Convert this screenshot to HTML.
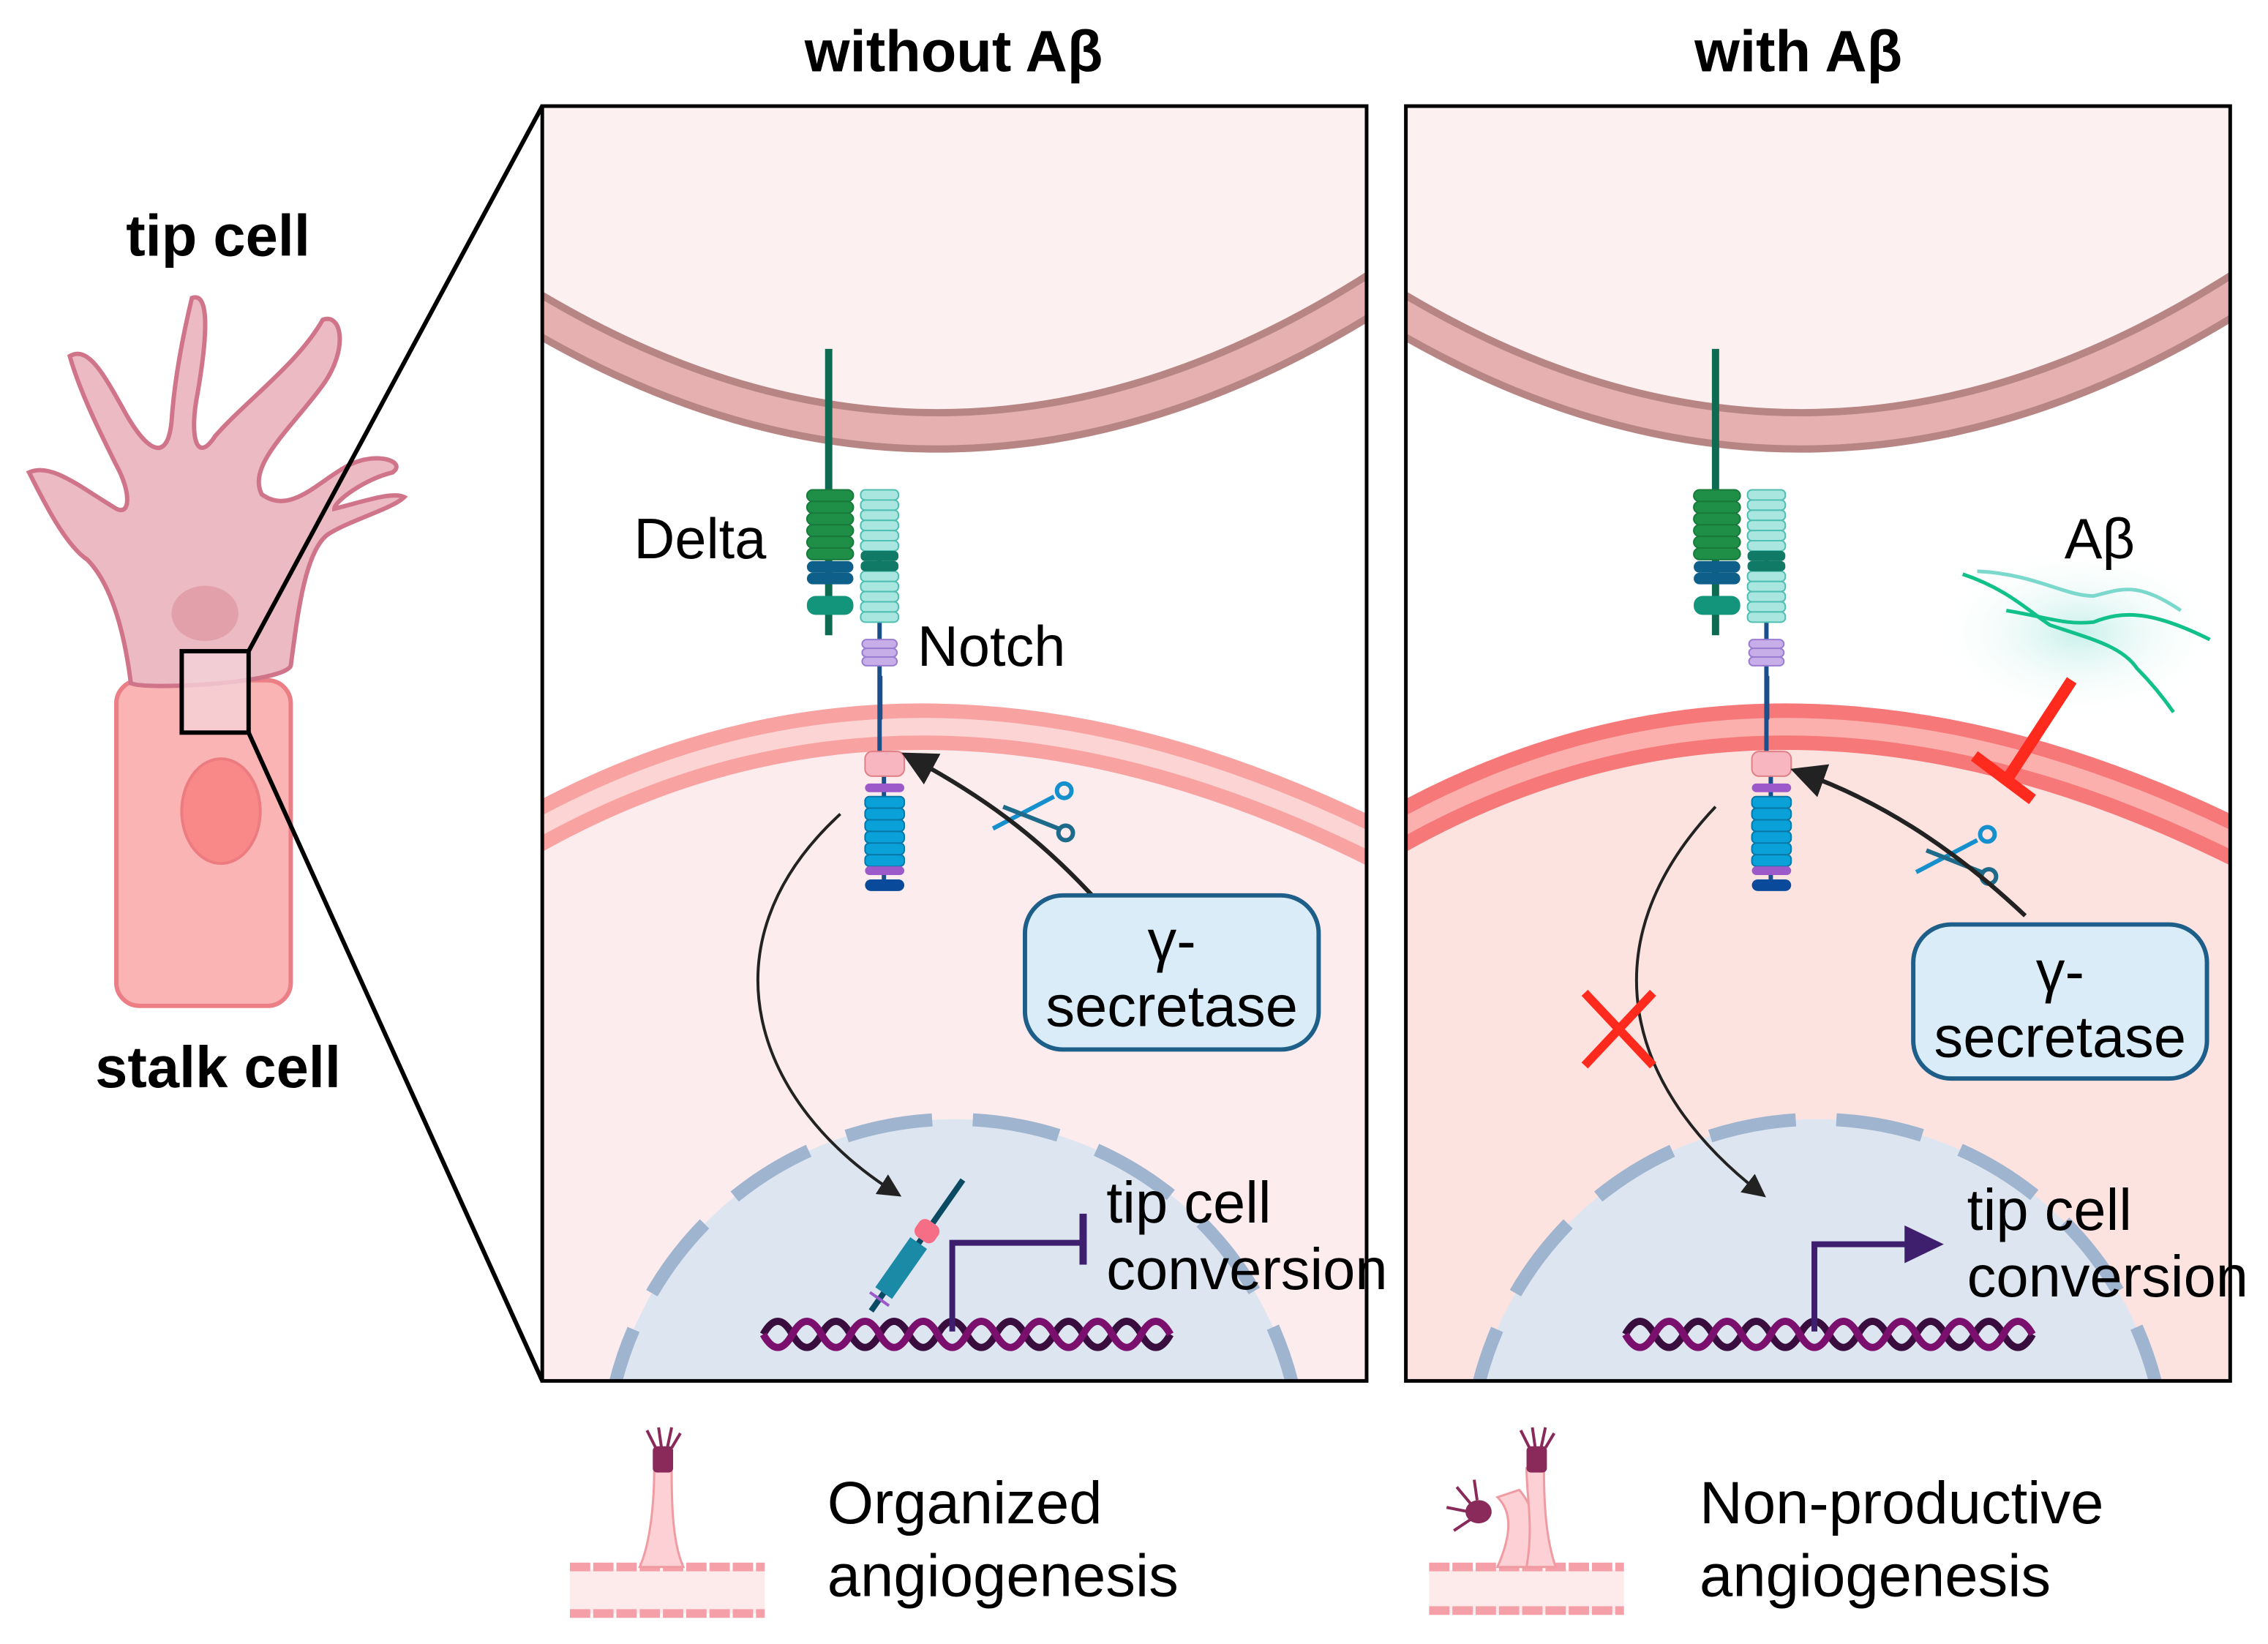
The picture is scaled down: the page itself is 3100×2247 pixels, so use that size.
<!DOCTYPE html>
<html><head><meta charset="utf-8"><style>
html,body{margin:0;padding:0;background:#fff;width:3100px;height:2247px;overflow:hidden;}
svg{display:block;}
text{font-family:"Liberation Sans",sans-serif;}
</style></head><body>
<svg width="3100" height="2247" viewBox="0 0 1560 1131" preserveAspectRatio="none" xmlns="http://www.w3.org/2000/svg">
<defs>
<clipPath id="cl"><rect x="373" y="73" width="567" height="877"/></clipPath>
<clipPath id="cr"><rect x="967" y="73" width="567" height="877"/></clipPath>
<marker id="ah" markerWidth="8" markerHeight="8" refX="5" refY="4" orient="auto" markerUnits="strokeWidth"><path d="M0,0 L8,4 L0,8 Z" fill="#222"/></marker>
<radialGradient id="glow"><stop offset="0" stop-color="#c8f0ea"/><stop offset="1" stop-color="#ffffff" stop-opacity="0"/></radialGradient>
<g id="rec">
 <line x1="570" y1="240" x2="570" y2="437" stroke="#0f6a52" stroke-width="5"/>
 <g fill="#1f8f48" stroke="#177a3a" stroke-width="1">
  <rect x="555" y="337" width="32" height="8" rx="4"/><rect x="555" y="345" width="32" height="8" rx="4"/><rect x="555" y="353" width="32" height="8" rx="4"/><rect x="555" y="361" width="32" height="8" rx="4"/><rect x="555" y="369" width="32" height="8" rx="4"/><rect x="555" y="377" width="32" height="8" rx="4"/></g>
 <rect x="555" y="386" width="32" height="8" rx="4" fill="#0e5f8a"/><rect x="555" y="394" width="32" height="8" rx="4" fill="#0e5f8a"/>
 <rect x="555" y="410" width="32" height="13" rx="6" fill="#12957a"/>
 <line x1="605" y1="337" x2="605" y2="520" stroke="#1a4f8a" stroke-width="3"/>
 <g fill="#a9e6df" stroke="#4fbfb2" stroke-width="1">
  <rect x="592" y="337" width="26" height="7" rx="3"/><rect x="592" y="344" width="26" height="7" rx="3"/><rect x="592" y="351" width="26" height="7" rx="3"/><rect x="592" y="358" width="26" height="7" rx="3"/><rect x="592" y="365" width="26" height="7" rx="3"/><rect x="592" y="372" width="26" height="7" rx="3"/>
  <rect x="592" y="393" width="26" height="7" rx="3"/><rect x="592" y="400" width="26" height="7" rx="3"/><rect x="592" y="407" width="26" height="7" rx="3"/><rect x="592" y="414" width="26" height="7" rx="3"/><rect x="592" y="421" width="26" height="7" rx="3"/></g>
 <rect x="592" y="379" width="26" height="7" rx="3" fill="#117a66"/><rect x="592" y="386" width="26" height="7" rx="3" fill="#117a66"/>
 <rect x="593" y="440" width="24" height="6" rx="3" fill="#c7aee8" stroke="#9a7cd0"/><rect x="593" y="446" width="24" height="6" rx="3" fill="#c7aee8" stroke="#9a7cd0"/><rect x="593" y="452" width="24" height="6" rx="3" fill="#c7aee8" stroke="#9a7cd0"/>
 <rect x="604" y="465" width="3" height="30" fill="#1a4f8a"/>
 <line x1="608" y1="534" x2="608" y2="610" stroke="#1a4f8a" stroke-width="3"/>
 <rect x="595" y="517" width="27" height="17" rx="5" fill="#f7b6c0" stroke="#e07f86"/>
 <rect x="595" y="539" width="27" height="6" rx="3" fill="#9b59c9"/>
 <g fill="#0aa0d8" stroke="#0878a8" stroke-width="1"><rect x="595" y="548" width="27" height="8" rx="3"/><rect x="595" y="556" width="27" height="8" rx="3"/><rect x="595" y="564" width="27" height="8" rx="3"/><rect x="595" y="572" width="27" height="8" rx="3"/><rect x="595" y="580" width="27" height="8" rx="3"/><rect x="595" y="588" width="27" height="8" rx="3"/></g>
 <rect x="595" y="596" width="27" height="6" rx="3" fill="#9b59c9"/>
 <rect x="595" y="605" width="27" height="8" rx="4" fill="#0a4a9a"/>
</g>
<g id="sciss" fill="none" stroke="#1590cc" stroke-width="3">
 <line x1="683" y1="570" x2="725" y2="548"/><line x1="690" y1="555" x2="728" y2="570" stroke="#1d6a8a"/>
 <circle cx="732" cy="544" r="5"/><circle cx="733" cy="573" r="5" stroke="#1d6a8a"/>
</g>
</defs>

<text x="656" y="49" font-size="40" font-weight="bold" text-anchor="middle">without Aβ</text>
<text x="1237" y="49" font-size="40" font-weight="bold" text-anchor="middle">with Aβ</text>
<text x="150" y="176" font-size="40" font-weight="bold" text-anchor="middle">tip cell</text>
<text x="150" y="748" font-size="40" font-weight="bold" text-anchor="middle">stalk cell</text>

<rect x="80" y="468" width="120" height="224" rx="16" fill="#fab4b4" stroke="#ec7e86" stroke-width="3"/>
<ellipse cx="152" cy="558" rx="27" ry="36" fill="#f98888" stroke="#ec7c80" stroke-width="2"/>
<path d="M90,470 C85,430 75,400 60,385 C45,375 30,345 20,325 C35,318 55,335 80,350 C90,355 90,338 80,320 C70,300 55,270 48,245 C60,238 70,255 84,280 C100,310 115,320 118,290 C120,260 126,230 132,205 C145,200 142,235 136,270 C130,300 135,320 148,300 C170,275 205,250 222,220 C235,215 240,240 222,265 C200,295 170,320 180,340 C200,355 220,330 240,320 C260,310 280,318 270,325 C250,330 230,345 230,350 C250,345 270,338 278,342 C270,350 240,358 225,368 C210,380 205,420 200,458 C195,470 100,475 90,470 Z" fill="#ebbac3" stroke="#d0748a" stroke-width="3"/>
<ellipse cx="141" cy="422" rx="23" ry="19" fill="#e2a0aa"/>
<rect x="125" y="448" width="46" height="56" fill="#f5d2d8" fill-opacity="0.8" stroke="#000" stroke-width="3"/>
<line x1="171" y1="448" x2="373" y2="73" stroke="#000" stroke-width="3"/>
<line x1="171" y1="504" x2="373" y2="950" stroke="#000" stroke-width="3"/>

<g clip-path="url(#cl)">
 <rect x="373" y="73" width="567" height="877" fill="#fdf0f0"/>
 <path d="M360,210 Q656,390 955,195 L955,620 L360,620 Z" fill="#fff"/>
 <path d="M360,210 Q656,390 955,195" fill="none" stroke="#b88585" stroke-width="30"/>
 <path d="M360,210 Q656,390 955,195" fill="none" stroke="#e6b0b0" stroke-width="20"/>
 <path d="M360,575 Q630,420 955,585 L955,960 L360,960 Z" fill="#fdeced"/>
 <path d="M360,575 Q630,420 955,585" fill="none" stroke="#f8a2a2" stroke-width="32"/>
 <path d="M360,575 Q630,420 955,585" fill="none" stroke="#fdd4d4" stroke-width="12"/>
 <circle cx="656" cy="1010" r="240" fill="#dde5f1" stroke="#9fb4cf" stroke-width="9" stroke-dasharray="60,28"/>
</g>
<use href="#rec"/>
<use href="#sciss"/>
<path d="M762,628 C720,580 680,550 628,522" fill="none" stroke="#222" stroke-width="3" marker-end="url(#ah)"/>
<path d="M578,560 C480,650 520,760 615,820" fill="none" stroke="#222" stroke-width="2" marker-end="url(#ah)"/>
<rect x="705" y="616" width="202" height="106" rx="26" fill="#dbecf9" stroke="#1e5f8a" stroke-width="3"/>
<text x="806" y="661" font-size="40" text-anchor="middle">γ-</text>
<text x="806" y="706" font-size="40" text-anchor="middle">secretase</text>
<text x="436" y="384" font-size="39">Delta</text>
<text x="631" y="458" font-size="39">Notch</text>
<g fill="none" stroke-width="5">
 <path d="M525,912 q10,-18 20,0 t20,0 t20,0 t20,0 t20,0 t20,0 t20,0 t20,0 t20,0 t20,0 t20,0 t20,0 t20,0 t20,0" stroke="#3a0d3f" transform="translate(0,6)"/>
 <path d="M525,930 q10,18 20,0 t20,0 t20,0 t20,0 t20,0 t20,0 t20,0 t20,0 t20,0 t20,0 t20,0 t20,0 t20,0 t20,0" stroke="#7a0f6e" transform="translate(0,-12)"/>
</g>
<g transform="rotate(-55 625 865)">
 <line x1="580" y1="865" x2="690" y2="865" stroke="#0b4a63" stroke-width="4"/>
 <rect x="595" y="858" width="42" height="14" fill="#1a8aa6"/>
 <rect x="640" y="857" width="14" height="16" rx="5" fill="#f56e85"/>
 <line x1="590" y1="857" x2="590" y2="873" stroke="#9b59c9" stroke-width="2"/>
</g>
<path d="M655,916 V855 H745" fill="none" stroke="#3e1f6e" stroke-width="4"/>
<line x1="745" y1="835" x2="745" y2="870" stroke="#3e1f6e" stroke-width="5"/>
<text x="761" y="841" font-size="40">tip cell</text>
<text x="761" y="887" font-size="40">conversion</text>
<rect x="373" y="73" width="567" height="877" fill="none" stroke="#000" stroke-width="2.5"/>

<g clip-path="url(#cr)">
 <rect x="967" y="73" width="567" height="877" fill="#fdf0f0"/>
 <path d="M954,210 Q1250,390 1549,195 L1549,620 L954,620 Z" fill="#fff"/>
 <path d="M954,210 Q1250,390 1549,195" fill="none" stroke="#b88585" stroke-width="30"/>
 <path d="M954,210 Q1250,390 1549,195" fill="none" stroke="#e6b0b0" stroke-width="20"/>
 <path d="M954,575 Q1224,420 1549,585 L1549,960 L954,960 Z" fill="#fde3e0"/>
 <path d="M954,575 Q1224,420 1549,585" fill="none" stroke="#f67878" stroke-width="32"/>
 <path d="M954,575 Q1224,420 1549,585" fill="none" stroke="#fbb0ae" stroke-width="12"/>
 <circle cx="1250" cy="1010" r="240" fill="#dde5f1" stroke="#9fb4cf" stroke-width="9" stroke-dasharray="60,28"/>
 <ellipse cx="1430" cy="435" rx="100" ry="60" fill="url(#glow)"/>
</g>
<use href="#rec" transform="translate(610,0)"/>
<use href="#sciss" transform="translate(635,30)"/>
<path d="M1393,630 C1340,580 1290,550 1240,532" fill="none" stroke="#222" stroke-width="3" marker-end="url(#ah)"/>
<path d="M1180,555 C1090,650 1120,750 1210,820" fill="none" stroke="#222" stroke-width="2" marker-end="url(#ah)"/>
<g stroke="#ff2a1e" stroke-width="6"><line x1="1090" y1="683" x2="1137" y2="733"/><line x1="1137" y1="683" x2="1090" y2="733"/>
<line x1="1425" y1="468" x2="1380" y2="537" stroke-width="8"/><line x1="1358" y1="520" x2="1398" y2="550" stroke-width="8"/></g>
<g fill="none" stroke="#12c08a" stroke-width="2.5">
 <path d="M1350,395 C1380,405 1395,420 1410,430 C1440,440 1460,445 1470,460 C1480,470 1488,480 1495,490"/>
 <path d="M1380,420 C1410,425 1420,430 1440,428 C1460,420 1480,420 1520,440"/>
 <path d="M1360,393 C1400,395 1420,410 1440,410 C1460,405 1470,400 1500,420" stroke="#7ad8cc"/>
</g>
<rect x="1316" y="636" width="202" height="106" rx="26" fill="#dbecf9" stroke="#1e5f8a" stroke-width="3"/>
<text x="1417" y="682" font-size="40" text-anchor="middle">γ-</text>
<text x="1417" y="727" font-size="40" text-anchor="middle">secretase</text>
<text x="1420" y="384" font-size="39">Aβ</text>
<g fill="none" stroke-width="5">
 <path d="M1118,918 q10,-18 20,0 t20,0 t20,0 t20,0 t20,0 t20,0 t20,0 t20,0 t20,0 t20,0 t20,0 t20,0 t20,0 t20,0" stroke="#3a0d3f"/>
 <path d="M1118,918 q10,18 20,0 t20,0 t20,0 t20,0 t20,0 t20,0 t20,0 t20,0 t20,0 t20,0 t20,0 t20,0 t20,0 t20,0" stroke="#7a0f6e"/>
</g>
<path d="M1248,916 V856 H1312" fill="none" stroke="#3e1f6e" stroke-width="4"/>
<path d="M1310,843 L1337,856 L1310,869 Z" fill="#3e1f6e"/>
<text x="1353" y="846" font-size="40">tip cell</text>
<text x="1353" y="892" font-size="40">conversion</text>
<rect x="967" y="73" width="567" height="877" fill="none" stroke="#000" stroke-width="2.5"/>

<g>
 <rect x="392" y="1080" width="134" height="30" fill="#fdeaea"/>
 <path d="M392,1078 H526" stroke="#f5a0a8" stroke-width="6" stroke-dasharray="14,2"/>
 <path d="M392,1110 H526" stroke="#f5a0a8" stroke-width="6" stroke-dasharray="14,2"/>
 <path d="M440,1078 C448,1060 450,1030 450,1010 L462,1010 C462,1030 462,1060 470,1078 Z" fill="#fcd0d4" stroke="#f09aa2" stroke-width="1.5"/>
 <rect x="449" y="995" width="14" height="18" rx="3" fill="#8a2a5a"/>
 <g stroke="#8a2a5a" stroke-width="2" fill="none"><path d="M451,996 l-6,-12"/><path d="M455,996 l-2,-14"/><path d="M459,996 l3,-14"/><path d="M462,996 l6,-10"/></g>
</g>
<text x="569" y="1048" font-size="41">Organized</text>
<text x="569" y="1098" font-size="41">angiogenesis</text>
<g>
 <rect x="983" y="1080" width="134" height="30" fill="#fdeaea"/>
 <path d="M983,1078 H1117" stroke="#f5a0a8" stroke-width="6" stroke-dasharray="14,2"/>
 <path d="M983,1108 H1117" stroke="#f5a0a8" stroke-width="6" stroke-dasharray="14,2"/>
 <path d="M1030,1078 C1040,1055 1040,1040 1030,1030 L1045,1025 C1058,1040 1058,1060 1058,1078 Z" fill="#fcd0d4" stroke="#f09aa2" stroke-width="1.5"/>
 <path d="M1050,1078 C1055,1050 1050,1030 1050,1010 L1062,1010 C1062,1040 1064,1060 1070,1078 Z" fill="#fcd0d4" stroke="#f09aa2" stroke-width="1.5"/>
 <rect x="1050" y="995" width="14" height="18" rx="3" fill="#8a2a5a"/>
 <ellipse cx="1017" cy="1040" rx="9" ry="8" fill="#8a2a5a"/>
 <g stroke="#8a2a5a" stroke-width="2" fill="none"><path d="M1052,996 l-6,-12"/><path d="M1056,996 l-2,-14"/><path d="M1060,996 l3,-14"/><path d="M1063,996 l6,-10"/>
 <path d="M1012,1035 l-10,-12"/><path d="M1010,1040 l-15,-3"/><path d="M1012,1045 l-12,8"/><path d="M1016,1032 l-2,-14"/></g>
</g>
<text x="1169" y="1048" font-size="41">Non-productive</text>
<text x="1169" y="1098" font-size="41">angiogenesis</text>
</svg>
</body></html>
